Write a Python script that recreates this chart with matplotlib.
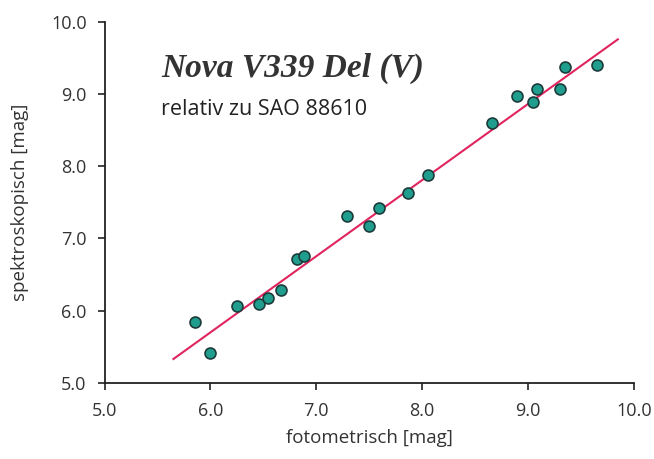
import matplotlib
matplotlib.use("Agg")
import matplotlib.pyplot as plt

# data (fotometrisch, spektroskopisch) in mag
foto = [5.85, 6.00, 6.25, 6.46, 6.54, 6.67, 6.82, 6.88, 7.29, 7.50,
        7.59, 7.87, 8.06, 8.66, 8.90, 9.05, 9.09, 9.30, 9.35, 9.65]
spek = [5.84, 5.42, 6.06, 6.09, 6.17, 6.29, 6.71, 6.76, 7.31, 7.18,
        7.42, 7.63, 7.88, 8.60, 8.97, 8.89, 9.07, 9.07, 9.37, 9.40]
fit_x = [5.65, 9.85]
fit_y = [5.33, 9.76]
ticks = [5.0, 6.0, 7.0, 8.0, 9.0, 10.0]
tick_labels = ["5.0", "6.0", "7.0", "8.0", "9.0", "10.0"]

plt.rcParams['font.family'] = ['Open Sans', 'DejaVu Sans']

fig = plt.figure(figsize=(6.54, 4.59), dpi=100)
ax = fig.add_axes([0.160, 0.166, 0.809, 0.786])

ax.plot(fit_x, fit_y, color="#e0245e", lw=1.5, zorder=2)
ax.scatter(foto, spek, s=62, c="#1f9e8e", edgecolors="#1c3b3a", linewidths=1.2, zorder=3)

ax.set_xlim(5.0, 10.0)
ax.set_ylim(5.0, 10.0)
ax.set_xticks(ticks)
ax.set_xticklabels(tick_labels)
ax.set_yticks(ticks)
ax.set_yticklabels(tick_labels)
for s in ("top", "right"):
    ax.spines[s].set_visible(False)
for s in ("left", "bottom"):
    ax.spines[s].set_linewidth(1.3)
    ax.spines[s].set_color("#222222")
ax.tick_params(direction="out", length=5, width=1.2, colors="#222222", labelsize=13)
ax.tick_params(axis="x", pad=9)
ax.tick_params(axis="y", pad=8)
for lab in ax.get_xticklabels() + ax.get_yticklabels():
    lab.set_color("#333333")

ax.set_xlabel("fotometrisch [mag]", fontsize=13.5, color="#333333", labelpad=6)
ax.set_ylabel("spektroskopisch [mag]", fontsize=13.5, color="#333333", labelpad=16)

ax.text(0.108, 0.872, "Nova V339 Del (V)", transform=ax.transAxes,
        fontsize=24, fontstyle="italic", fontweight="bold",
        family=["Liberation Serif", "DejaVu Serif"], color="#333333", va="center")
ax.text(0.106, 0.757, "relativ zu SAO 88610", transform=ax.transAxes,
        fontsize=15.5, color="#222222", va="center")

fig.savefig("out.png", dpi=100)
